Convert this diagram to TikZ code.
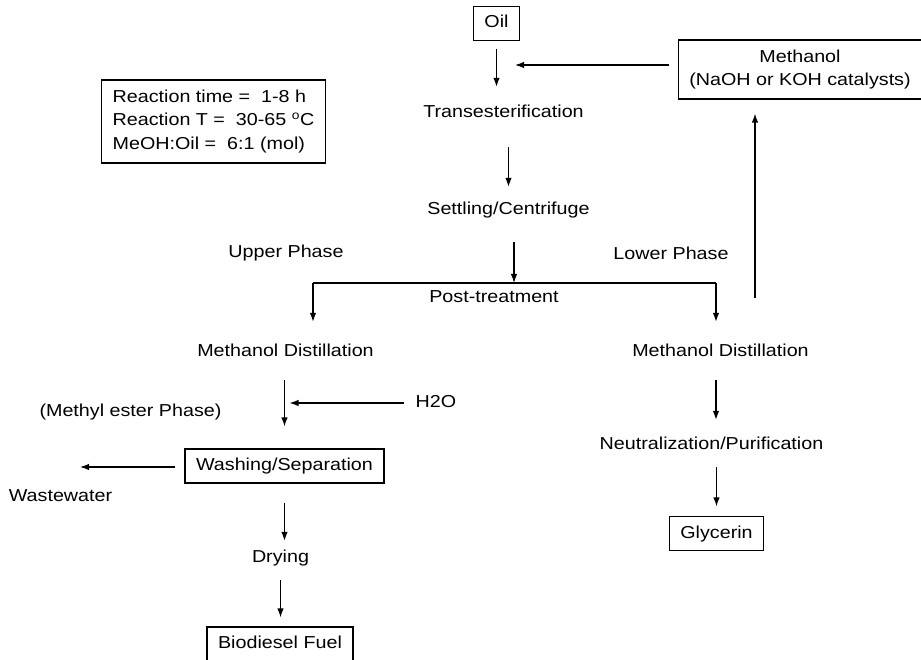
\documentclass[tikz,border=0pt]{standalone}
\usepackage{fontspec}
\setmainfont{Liberation Sans}[FakeStretch=1.14]
\usetikzlibrary{calc,arrows.meta}

\tikzset{
  txt/.style={inner sep=0pt, text height=12.5pt, text depth=3.5pt},
  boxed/.style={draw, line width=1.2pt, inner xsep=11pt, inner ysep=0pt,
    minimum height=34pt, text height=12.5pt, text depth=3.5pt},
  infobox/.style={draw, line width=1.2pt, inner xsep=11pt, inner ysep=0pt},
  arr/.style={line width=1.2pt, -{Latex[length=9pt,width=6.5pt]}},
}

\begin{document}
\begin{tikzpicture}[x=1pt, y=-1pt, font=\fontsize{17.3pt}{23.5pt}\selectfont]
    \useasboundingbox (0,0) rectangle (921,660);
    % feed and reaction
    \node[boxed] (oil) at (496.5,23.5) {Oil};
    \node[infobox, minimum height=59pt, align=center] (meoh) at (800,69.5)
        {Methanol\\(NaOH or KOH catalysts)};
    \node[infobox, minimum height=83pt, align=left] (cond) at (213.5,121.5)
        {Reaction time = ~1-8 h\\Reaction T = ~30-65 \textsuperscript{o}C\\MeOH:Oil = ~6:1 (mol)};
    \node[txt] (trans) at (503.5,113) {Transesterification};
    \node[txt] (settle) at (508.5,210) {Settling/Centrifuge};
    \node[txt] (upper) at (286,253) {Upper Phase};
    \node[txt] (lower) at (671,255) {Lower Phase};
    \node[txt] (post) at (494,298) {Post-treatment};
    % upper phase branch
    \node[txt] (distl) at (285.5,352) {Methanol Distillation};
    \node[txt] (ester) at (130.5,412) {(Methyl ester Phase)};
    \node[txt] (water) at (436,403) {H2O};
    \node[boxed] (wash) at (284.5,466) {Washing/Separation};
    \node[txt] (waste) at (60.5,497) {Wastewater};
    \node[txt] (dry) at (280.5,558) {Drying};
    \node[boxed] (fuel) at (280,644) {Biodiesel Fuel};
    % lower phase branch
    \node[txt] (distr) at (720.5,352) {Methanol Distillation};
    \node[txt] (neut) at (711.5,445) {Neutralization/Purification};
    \node[boxed] (glyc) at (716.5,533.5) {Glycerin};

    \coordinate (split) at (514,283);
    \coordinate (bl) at (313,283);
    \coordinate (br) at (716,283);
    \coordinate (ret) at (755,298);
    \coordinate (drain) at (80,467);

    \draw[arr, shorten <=7.5pt, shorten >=18pt] (oil.south) -- (oil.south |- trans.north);
    \draw[arr, shorten <=8.5pt, shorten >=18.5pt] ([yshift=4.5pt]meoh.west) -- ([yshift=4.5pt]meoh.west -| oil);
    \draw[arr, shorten <=26pt, shorten >=15pt] (trans.south -| settle) -- (settle.north);
    \draw[arr, shorten <=24pt] (settle.south -| split) -- (split);
    \draw[line width=1.2pt] (bl) -- (br);
    \draw[arr, shorten >=22pt] (bl) -- (bl |- distl.north);
    \draw[arr, shorten >=22pt] (br) -- (br |- distr.north);
    \draw[arr, shorten >=14pt] (ret) -- (ret |- meoh.south);

    \draw[arr, shorten <=20pt, shorten >=22pt] (distl.south -| wash) -- (wash.north);
    \draw[arr, shorten <=12pt, shorten >=5pt] (water.west) -- (water.west -| wash);
    \draw[arr, shorten <=9pt] (wash.west |- drain) -- (drain);
    \draw[arr, shorten <=19pt, shorten >=9pt] (wash.south) -- (wash.south |- dry.north);
    \draw[arr, shorten <=14pt, shorten >=9pt] (dry.south) -- (dry.south |- fuel.north);

    \draw[arr, shorten <=20pt, shorten >=17pt] (br |- distr.south) -- (br |- neut.north);
    \draw[arr, shorten <=14pt, shorten >=9.5pt] (neut.south -| glyc) -- (glyc.north);
\end{tikzpicture}
\end{document}
